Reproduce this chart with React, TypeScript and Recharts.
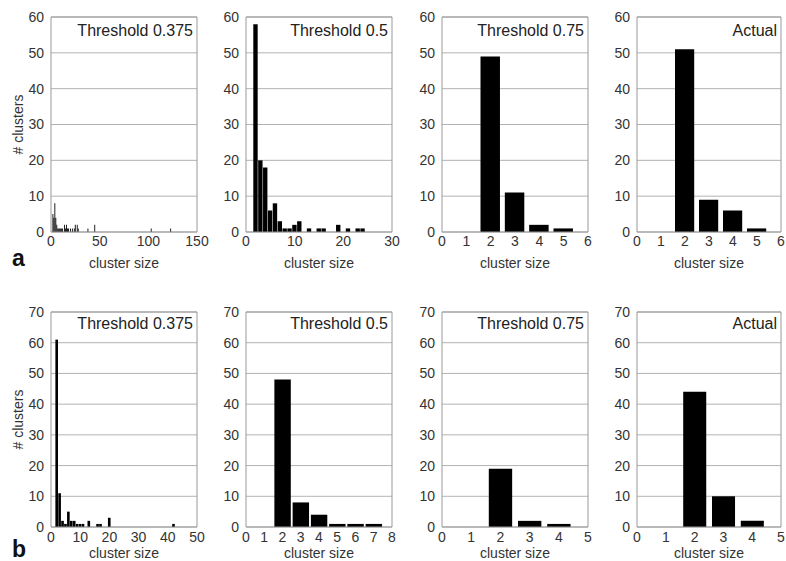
import React from 'react';
import { BarChart, Bar, XAxis, YAxis, CartesianGrid, ReferenceLine } from 'recharts';

// row a: cluster size -> number of clusters
const aT375Sizes = [2, 3, 4, 5, 6, 7, 8, 9, 10, 11, 12, 14, 15, 16, 17, 18, 20, 22, 24, 25, 27, 28, 38, 45, 103, 123];
const aT375Counts = [5, 4, 8, 4, 2, 1, 1, 1, 1, 1, 1, 2, 1, 2, 1, 1, 1, 1, 1, 2, 2, 1, 1, 2, 1, 1];
const aT5Sizes = [2, 3, 4, 5, 6, 7, 8, 9, 10, 11, 13, 15, 16, 19, 21, 23, 24];
const aT5Counts = [58, 20, 18, 6, 8, 3, 1, 1, 2, 3, 1, 1, 1, 2, 1, 1, 1];
const aT75Sizes = [2, 3, 4, 5];
const aT75Counts = [49, 11, 2, 1];
const aActualSizes = [2, 3, 4, 5];
const aActualCounts = [51, 9, 6, 1];

// row b
const bT375Sizes = [2, 3, 4, 5, 6, 7, 8, 9, 10, 11, 13, 16, 17, 20, 42];
const bT375Counts = [61, 11, 2, 1, 5, 2, 2, 1, 1, 1, 2, 1, 1, 3, 1];
const bT5Sizes = [2, 3, 4, 5, 6, 7];
const bT5Counts = [48, 8, 4, 1, 1, 1];
const bT75Sizes = [2, 3, 4];
const bT75Counts = [19, 2, 1];
const bActualSizes = [2, 3, 4];
const bActualCounts = [44, 10, 2];

// tick labels
const aYTicks = [0, 10, 20, 30, 40, 50, 60];
const bYTicks = [0, 10, 20, 30, 40, 50, 60, 70];
const aXTicks = [[0, 50, 100, 150], [0, 10, 20, 30], [0, 1, 2, 3, 4, 5, 6], [0, 1, 2, 3, 4, 5, 6]];
const bXTicks = [[0, 10, 20, 30, 40, 50], [0, 1, 2, 3, 4, 5, 6, 7, 8], [0, 1, 2, 3, 4, 5], [0, 1, 2, 3, 4, 5]];
const titles = ['Threshold 0.375', 'Threshold 0.5', 'Threshold 0.75', 'Actual'];

const PLOT_H = 215;
const colLeft = [51, 246, 442, 637];
const colWidth = [146, 146, 146, 144];
const rowTop = [17, 312];
const barFrac = [0.9, 0.9, 0.8, 0.8];
const rowLabelOffset = [4, 9];
const rowTickMargin = [4, 5];

const tickStyle = { fontSize: 14, fill: '#333' };

interface HistProps {
  sizes: number[];
  counts: number[];
  xTicks: number[];
  yTicks: number[];
  col: number;
  row: number;
  title: string;
}

const Hist: React.FC<HistProps> = ({ sizes, counts, xTicks, yTicks, col, row, title }) => {
  const data = sizes.map((s, i) => ({ size: s, count: counts[i] }));
  const xMax = xTicks[xTicks.length - 1];
  const yMax = yTicks[yTicks.length - 1];
  const plotW = colWidth[col];
  const barSize = (plotW * barFrac[col]) / xMax;
  const left = colLeft[col];
  const top = rowTop[row];
  return (
    <>
      <div style={{ position: 'absolute', left: left - 50, top: top - 10 }}>
        <BarChart
          width={50 + plotW + 24}
          height={10 + PLOT_H + 40}
          data={data}
          margin={{ top: 10, right: 24, left: 0, bottom: 0 }}
        >
          <CartesianGrid vertical={false} stroke="#b3b3b3" />
          <XAxis
            type="number"
            dataKey="size"
            domain={[0, xMax]}
            ticks={xTicks}
            interval={0}
            tickSize={0}
            tickMargin={rowTickMargin[row]}
            tick={tickStyle}
            axisLine={{ stroke: '#999' }}
            height={40}
            allowDataOverflow
            label={{ value: 'cluster size', position: 'insideBottom', offset: rowLabelOffset[row], fontSize: 14, fill: '#333' }}
          />
          <YAxis
            type="number"
            domain={[0, yMax]}
            ticks={yTicks}
            interval={0}
            width={50}
            tickSize={0}
            tickMargin={7}
            tick={tickStyle}
            axisLine={{ stroke: '#999' }}
            allowDataOverflow
            label={
              col === 0
                ? { value: '# clusters', angle: -90, position: 'insideLeft', offset: 17, fontSize: 14, fill: '#333', style: { textAnchor: 'middle' } }
                : undefined
            }
          />
          <ReferenceLine x={xMax} stroke="#999" />
          <ReferenceLine y={yMax} stroke="#999" />
          <Bar dataKey="count" fill="#000" barSize={barSize} isAnimationActive={false} />
        </BarChart>
      </div>
      <div
        style={{
          position: 'absolute',
          left,
          top: top + (row === 0 ? 6 : 4),
          width: plotW - 4,
          textAlign: 'right',
          fontSize: 16,
          lineHeight: '16px',
          color: '#222',
        }}
      >
        {title}
      </div>
    </>
  );
};

export default function App() {
  const rowA = [
    [aT375Sizes, aT375Counts],
    [aT5Sizes, aT5Counts],
    [aT75Sizes, aT75Counts],
    [aActualSizes, aActualCounts],
  ];
  const rowB = [
    [bT375Sizes, bT375Counts],
    [bT5Sizes, bT5Counts],
    [bT75Sizes, bT75Counts],
    [bActualSizes, bActualCounts],
  ];
  return (
    <div
      style={{
        position: 'absolute',
        left: 0,
        top: 0,
        width: 786,
        height: 561,
        overflow: 'hidden',
        background: '#fff',
        fontFamily: '"Liberation Sans", Arial, sans-serif',
      }}
    >
      {rowA.map(([s, c], i) => (
        <Hist key={'a' + i} sizes={s} counts={c} xTicks={aXTicks[i]} yTicks={aYTicks} col={i} row={0} title={titles[i]} />
      ))}
      {rowB.map(([s, c], i) => (
        <Hist key={'b' + i} sizes={s} counts={c} xTicks={bXTicks[i]} yTicks={bYTicks} col={i} row={1} title={titles[i]} />
      ))}
      <div style={{ position: 'absolute', left: 12, top: 247, fontSize: 23, lineHeight: '23px', fontWeight: 'bold', color: '#111' }}>a</div>
      <div style={{ position: 'absolute', left: 12, top: 538, fontSize: 23, lineHeight: '23px', fontWeight: 'bold', color: '#111' }}>b</div>
    </div>
  );
}
